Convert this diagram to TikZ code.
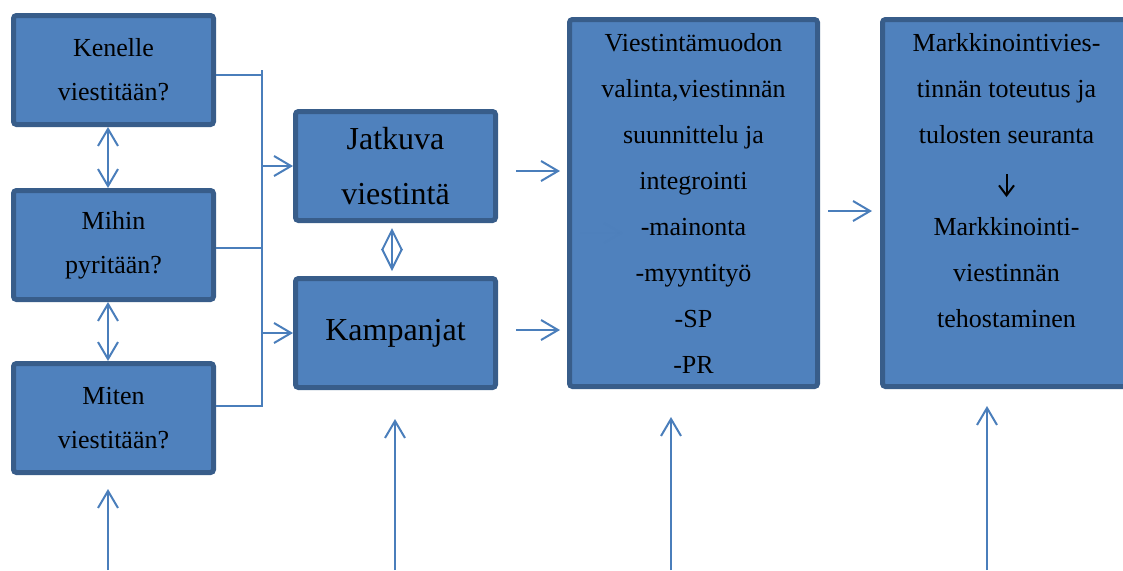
\documentclass[tikz,border=0pt]{standalone}
\usepackage{fontspec}
\setmainfont{Liberation Serif}
\usetikzlibrary{arrows.meta,positioning}
\definecolor{boxblue}{RGB}{79,129,189}
\definecolor{edgeblue}{RGB}{56,93,138}
\definecolor{linkblue}{RGB}{74,126,187}
\newcommand{\downmark}{\tikz[baseline=4pt]\draw[black,line width=1pt,-{Straight Barb[length=5pt,width=7.5pt]}] (0,11.5pt) -- (0,0pt);}
\begin{document}
\begin{tikzpicture}[x=0.5pt,y=-0.5pt,node distance=30pt and 30pt,box/.style={draw=edgeblue,line width=2.5pt,rounded corners=1.5pt,fill=boxblue,align=center,minimum width=100pt,minimum height=54.5pt,font=\fontsize{13}{22}\selectfont},bigbox/.style={box,font=\fontsize{16}{27.5}\selectfont},tallbox/.style={box,minimum width=124pt,minimum height=183.5pt,font=\fontsize{13}{23}\selectfont},arr/.style={-{Straight Barb[length=8.5pt,width=10pt]},line width=1pt,draw=linkblue},darr/.style={{Straight Barb[length=8.5pt,width=10pt]}-{Straight Barb[length=8.5pt,width=10pt]},line width=1pt,draw=linkblue}]
\useasboundingbox (0,0) rectangle (1123,570);
\node[box] (ken) at (113.5,70) {Kenelle\\viestitään?};
\node[box,below=30.5pt of ken] (mih) {Mihin\\pyritään?};
\node[box,below=29.5pt of mih] (mit) {Miten\\viestitään?};
\node[bigbox] (jat) at (395.5,166) {Jatkuva\\viestintä};
\node[bigbox,below=26.5pt of jat] (kam) {Kampanjat};
\node[tallbox] (vie) at (693.5,203) {Viestintämuodon\\valinta,viestinnän\\suunnittelu ja\\integrointi\\-mainonta\\-myyntityö\\-SP\\-PR};
\node[tallbox,right=30pt of vie] (mar) {Markkinointivies-\\tinnän toteutus ja\\tulosten seuranta\\\downmark\\Markkinointi-\\viestinnän\\tehostaminen\\ \mbox{}};
% bracket from the three questions
\coordinate (bus) at (262,70);
\draw[line width=1pt,draw=linkblue] ([yshift=-2.5pt]ken.east) -| (bus) |- ([yshift=6pt]mit.east);
\draw[line width=1pt,draw=linkblue] ([yshift=-1.5pt]mih.east) -- ([yshift=-1.5pt]mih.east -| bus);
\draw[arr] (jat.west -| bus) -- (jat.west);\draw[arr] (kam.west -| bus) -- (kam.west);
\draw[darr,transform canvas={xshift=-2.75pt}] (ken.south) -- (mih.north);\draw[darr,transform canvas={xshift=-2.75pt}] (mih.south) -- (mit.north);
\draw[darr,{Straight Barb[length=10pt,width=10pt]}-{Straight Barb[length=10pt,width=10pt]},shorten <=2.5pt,shorten >=2.5pt,transform canvas={xshift=-1.75pt}] (jat.south) -- (kam.north);
\draw[arr,shorten <=9pt,shorten >=3.5pt] ([yshift=-2.5pt]jat.east) -- ([yshift=-2.5pt]jat.east -| vie.west);
\draw[arr,shorten <=9pt,shorten >=3.5pt] ([yshift=1.5pt]kam.east) -- ([yshift=1.5pt]kam.east -| vie.west);
\draw[arr,shorten <=4pt,shorten >=4pt] ([yshift=-4pt]vie.east) -- ([yshift=-4pt]vie.east -| mar.west);
% faint arrow showing through
\coordinate (gA) at (580,233);\coordinate (gB) at (623,233);
\draw[arr,opacity=.12] (gA) -- (gB);
% inputs from below
\coordinate (inA) at (108,570);\coordinate (inB) at (395,570);\coordinate (inC) at (671,570);\coordinate (inD) at (987,570);
\draw[arr,shorten >=7pt] (inA) -- (inA |- mit.south);\draw[arr,shorten >=14.5pt] (inB) -- (inB |- kam.south);
\draw[arr,shorten >=14pt] (inC) -- (inC |- vie.south);\draw[arr,shorten >=8.5pt] (inD) -- (inD |- mar.south);
\end{tikzpicture}
\end{document}
